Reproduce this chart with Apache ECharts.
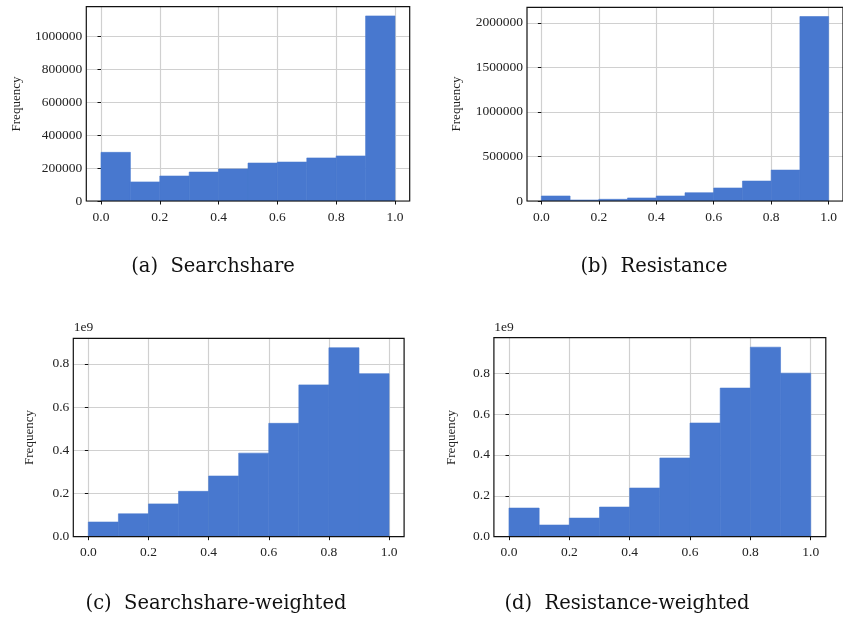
<!DOCTYPE html>
<html>
<head>
<meta charset="utf-8">
<script src="https://cdn.jsdelivr.net/npm/echarts@6/dist/echarts.min.js"></script>
<style>
  html, body { margin: 0; padding: 0; background: #fff; }
  #chart { width: 843px; height: 621px; }
</style>
</head>
<body>
<div id="chart"></div>
<script>
// Histogram bin edges shared by all four panels
var binEdges = [0.0, 0.1, 0.2, 0.3, 0.4, 0.5, 0.6, 0.7, 0.8, 0.9, 1.0];

// Bin counts
var searchshare = [296000, 116000, 152000, 176000, 195000, 231000, 237000, 262000, 274000, 1126000];
var resistance = [56000, 11000, 19000, 34000, 56000, 93000, 146000, 224000, 347000, 2071000];
// Weighted bin totals, in units of 1e9
var searchshareWeighted = [0.068, 0.106, 0.152, 0.210, 0.281, 0.387, 0.525, 0.703, 0.875, 0.755];
var resistanceWeighted = [0.140, 0.057, 0.091, 0.145, 0.238, 0.385, 0.556, 0.727, 0.927, 0.800];

// Tick values
var xTicks = [0.0, 0.2, 0.4, 0.6, 0.8, 1.0];
var yTicksA = [0, 200000, 400000, 600000, 800000, 1000000];
var yTicksB = [0, 500000, 1000000, 1500000, 2000000];
var yTicksW = [0.0, 0.2, 0.4, 0.6, 0.8];

var captions = ['(a)  Searchshare', '(b)  Resistance', '(c)  Searchshare-weighted', '(d)  Resistance-weighted'];

var BAR = '#4878CF';
var TICK_FONT = "'Liberation Serif', 'Times New Roman', serif";
var CAP_FONT = "'DejaVu Serif', serif";

var panels = [
  { values: searchshare, yTicks: yTicksA, fmt: function (v) { return String(v); },
    grid: { left: 86.3, top: 6.7, width: 323.4, height: 194.3 } },
  { values: resistance, yTicks: yTicksB, fmt: function (v) { return String(v); },
    grid: { left: 527, top: 7.3, width: 322.3, height: 193.7 } },
  { values: searchshareWeighted, yTicks: yTicksW, fmt: function (v) { return v.toFixed(1); },
    grid: { left: 73.3, top: 338.3, width: 330.8, height: 198.4 } },
  { values: resistanceWeighted, yTicks: yTicksW, fmt: function (v) { return v.toFixed(1); },
    grid: { left: 493.9, top: 337.7, width: 331.9, height: 199 } }
];

function binData(values) {
  return values.map(function (v, i) { return [binEdges[i], binEdges[i + 1], v]; });
}

var grids = [], xAxes = [], yAxes = [], series = [];
panels.forEach(function (p, i) {
  var g = p.grid;
  // Grid border acts as the frame and sits above the bars
  grids.push({ left: g.left, top: g.top, width: g.width, height: g.height,
    show: true, borderColor: '#111', borderWidth: 1.2, backgroundColor: 'rgba(0,0,0,0)', z: 5 });
  xAxes.push({
    type: 'value', gridIndex: i, min: -0.05, max: 1.05,
    axisLine: { show: false },
    axisTick: { show: true, inside: false, length: 3.5, customValues: xTicks, lineStyle: { color: '#111', width: 1 } },
    axisLabel: { customValues: xTicks, margin: 9, color: '#222', fontFamily: TICK_FONT, fontSize: 13.5,
      formatter: function (v) { return v.toFixed(1); } },
    splitLine: { show: true, lineStyle: { color: '#d0d0d0', width: 1.2 } },
    z: 1
  });
  var maxV = Math.max.apply(null, p.values) * 1.05;
  yAxes.push({
    type: 'value', gridIndex: i, min: 0, max: maxV,
    axisLine: { show: false },
    axisTick: { show: true, inside: false, length: 3.5, customValues: p.yTicks, lineStyle: { color: '#111', width: 1 } },
    axisLabel: { customValues: p.yTicks, margin: 4, color: '#222', fontFamily: TICK_FONT, fontSize: 13.5,
      formatter: p.fmt },
    splitLine: { show: true, lineStyle: { color: '#d0d0d0', width: 1.2 } },
    z: 1
  });
  series.push({
    type: 'custom', xAxisIndex: i, yAxisIndex: i,
    data: binData(p.values),
    encode: { x: [0, 1], y: 2 },
    clip: true,
    renderItem: function (params, api) {
      var top = api.coord([api.value(0), api.value(2)]);
      var base = api.coord([api.value(1), 0]);
      return {
        type: 'rect',
        shape: { x: top[0], y: top[1], width: base[0] - top[0], height: base[1] - top[1] },
        // thin same-colour stroke closes the seams between adjacent bins
        style: { fill: BAR, stroke: BAR, lineWidth: 0.6 }
      };
    },
    z: 2
  });
});

var graphic = [];
// Rotated y-axis titles
[[16.5, 104], [456.5, 104], [30, 437.5], [451.5, 437.5]].forEach(function (pos) {
  graphic.push({ type: 'text', x: pos[0], y: pos[1], rotation: Math.PI / 2,
    style: { text: 'Frequency', font: '13px ' + TICK_FONT, fill: '#222', align: 'center', verticalAlign: 'middle' } });
});
// Offset markers for the weighted panels
[[83.5, 327.5], [504, 327.5]].forEach(function (pos) {
  graphic.push({ type: 'text', x: pos[0], y: pos[1],
    style: { text: '1e9', font: '13.5px ' + TICK_FONT, fill: '#222', align: 'center', verticalAlign: 'middle' } });
});
// Sub-figure captions
[[213, 266.5], [654, 266.5], [216, 603.5], [627, 603.5]].forEach(function (pos, i) {
  graphic.push({ type: 'text', x: pos[0], y: pos[1],
    style: { text: captions[i], font: '19.5px ' + CAP_FONT, fill: '#111', align: 'center', verticalAlign: 'middle' } });
});

var chart = echarts.init(document.getElementById('chart'), null, { renderer: 'canvas' });
chart.setOption({
  animation: false,
  backgroundColor: '#fff',
  grid: grids,
  xAxis: xAxes,
  yAxis: yAxes,
  series: series,
  graphic: graphic
});
</script>
</body>
</html>
